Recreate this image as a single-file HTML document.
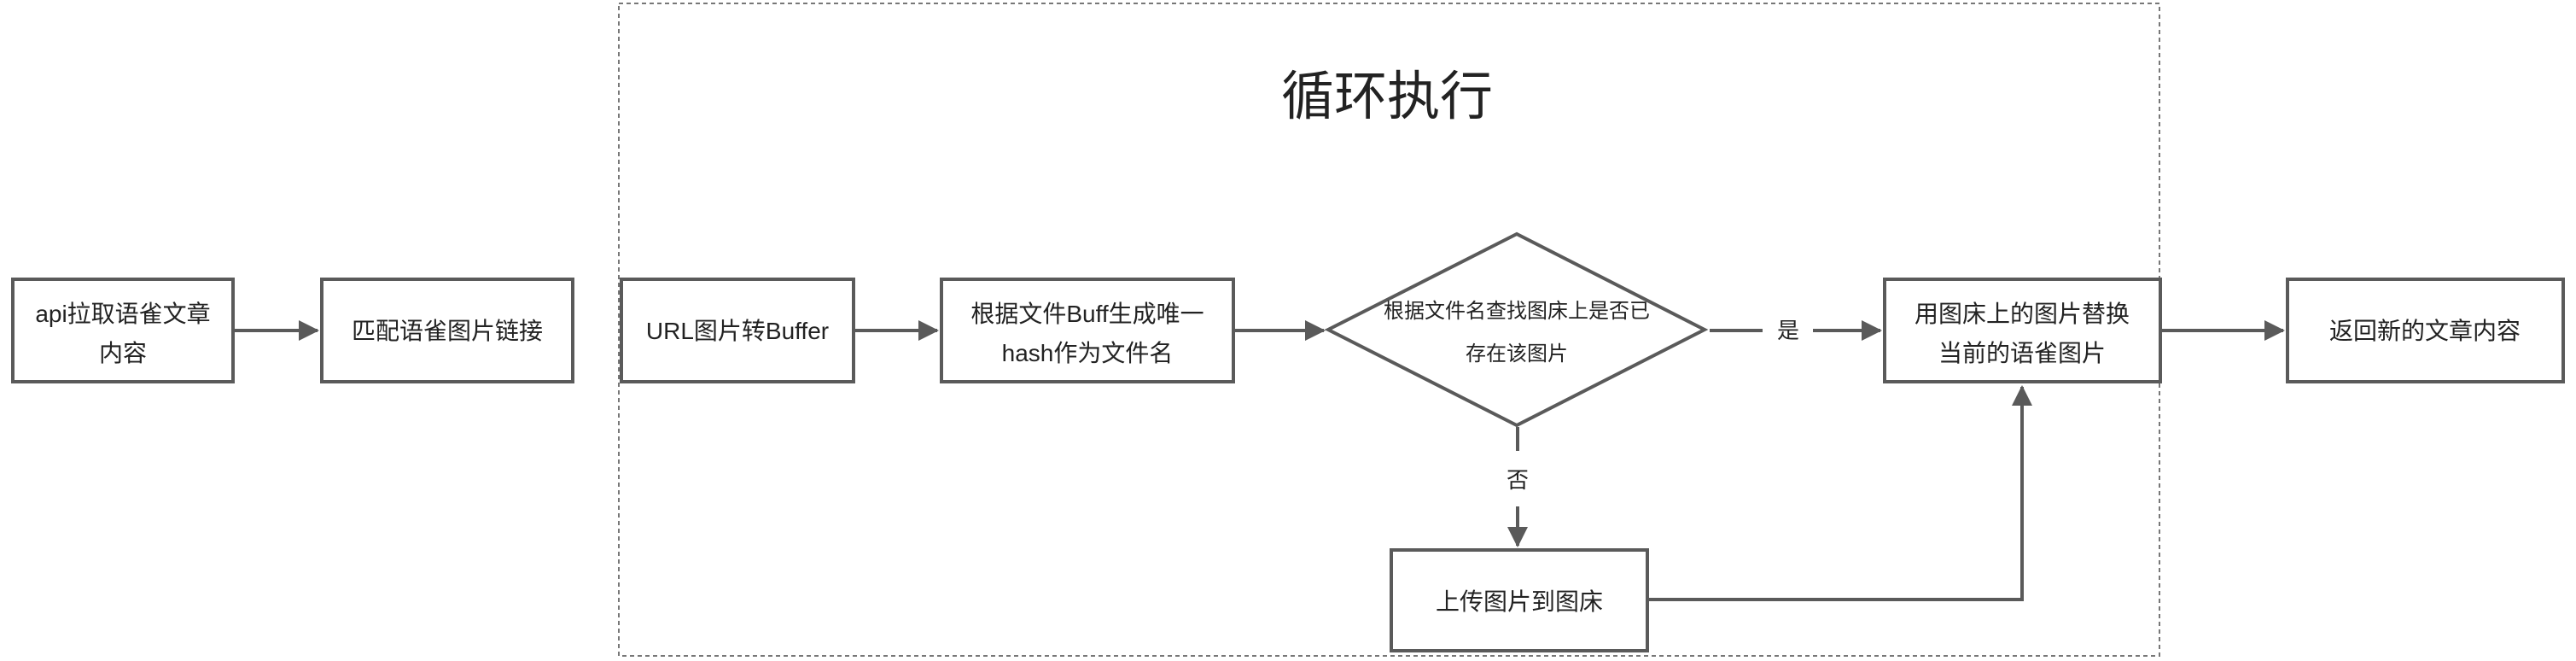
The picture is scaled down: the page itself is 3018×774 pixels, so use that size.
<!DOCTYPE html>
<html><head><meta charset="utf-8"><style>
html,body{margin:0;padding:0;background:#fff;}
svg{display:block;}
text{font-family:"Liberation Sans","Noto Sans CJK SC",sans-serif;fill:#222;}
</style></head><body>
<svg width="3018" height="774" viewBox="0 0 3018 774" xmlns="http://www.w3.org/2000/svg">
<defs>
<marker id="a" markerWidth="6" markerHeight="6" refX="5.5" refY="3" orient="auto" markerUnits="strokeWidth">
<path d="M0,0 L6,3 L0,6 Z" fill="#5a5a5a"/>
</marker>
</defs>
<rect x="725" y="4" width="1805" height="764" fill="none" stroke="#777" stroke-width="2" stroke-dasharray="5,4"/>
<text x="1625" y="134" font-size="62" text-anchor="middle">循环执行</text>

<g fill="#fff" stroke="#5a5a5a" stroke-width="4">
<rect x="15" y="327" width="258" height="120"/>
<rect x="377" y="327" width="294" height="120"/>
<rect x="728" y="327" width="272" height="120"/>
<rect x="1103" y="327" width="342" height="120"/>
<polygon points="1556,386 1777,274 1997,386 1777,498"/>
<rect x="2208" y="327" width="323" height="120"/>
<rect x="2680" y="327" width="323" height="120"/>
<rect x="1630" y="644" width="300" height="118"/>
</g>

<g stroke="#5a5a5a" stroke-width="4" fill="none">
<line x1="275" y1="387" x2="372" y2="387" marker-end="url(#a)"/>
<line x1="1002" y1="387" x2="1098" y2="387" marker-end="url(#a)"/>
<line x1="1447" y1="387" x2="1551" y2="387" marker-end="url(#a)"/>
<line x1="2003" y1="387" x2="2065" y2="387"/>
<line x1="2124" y1="387" x2="2203" y2="387" marker-end="url(#a)"/>
<line x1="2533" y1="387" x2="2675" y2="387" marker-end="url(#a)"/>
<line x1="1778" y1="500" x2="1778" y2="528"/>
<line x1="1778" y1="593" x2="1778" y2="639" marker-end="url(#a)"/>
<polyline points="1932,702 2369,702 2369,453" marker-end="url(#a)"/>
</g>

<g font-size="28" text-anchor="middle">
<text x="144" y="377">api拉取语雀文章</text>
<text x="144" y="423">内容</text>
<text x="524" y="397">匹配语雀图片链接</text>
<text x="864" y="397">URL图片转Buffer</text>
<text x="1274" y="377">根据文件Buff生成唯一</text>
<text x="1274" y="423">hash作为文件名</text>
<text x="2369" y="377">用图床上的图片替换</text>
<text x="2369" y="423">当前的语雀图片</text>
<text x="2841" y="397">返回新的文章内容</text>
<text x="1780" y="714">上传图片到图床</text>
</g>
<g font-size="24" text-anchor="middle">
<text x="1777" y="372">根据文件名查找图床上是否已</text>
<text x="1777" y="422">存在该图片</text>
</g>
<text x="2095" y="396" font-size="26" text-anchor="middle">是</text>
<text x="1778" y="571" font-size="26" text-anchor="middle">否</text>
</svg>
</body></html>
